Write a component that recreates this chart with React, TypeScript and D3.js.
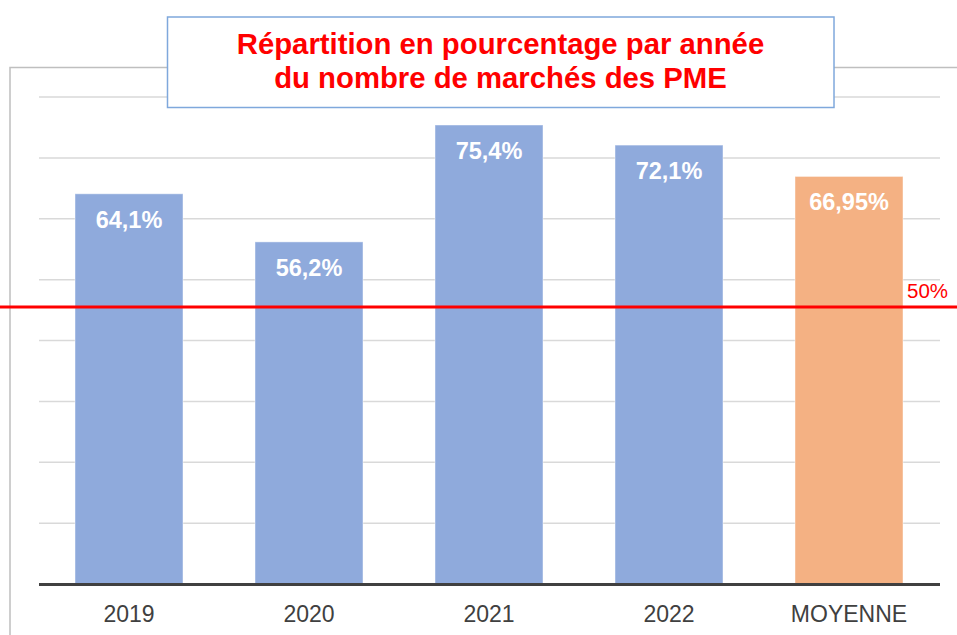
import React, { useRef, useEffect } from 'react';
import * as d3 from 'd3';

const categories = ['2019', '2020', '2021', '2022', 'MOYENNE'];
const values = [64.1, 56.2, 75.4, 72.1, 66.95];
const valueLabels = ['64,1%', '56,2%', '75,4%', '72,1%', '66,95%'];
const gridTicks = [10, 20, 30, 40, 50, 60, 70, 80];
const titleLines = ['Répartition en pourcentage par année', 'du nombre de marchés des PME'];
// red reference line, drawn where it sits in the picture
const refLineValue = 45.5;
const refLineLabel = '50%';

const W = 957;
const H = 635;

const App = () => {
    const svgRef = useRef<SVGSVGElement>(null);

    useEffect(() => {
        const svg = d3.select(svgRef.current);
        svg.selectAll('*').remove();

        const left = 39;
        const right = 939;
        const bottom = 584;
        const top = 97;

        const x = d3.scaleBand()
            .domain(categories)
            .range([left, right])
            .paddingInner(0.4)
            .paddingOuter(0.2);

        const y = d3.scaleLinear()
            .domain([0, 80])
            .range([bottom, top]);

        svg.append('rect')
            .attr('width', W)
            .attr('height', H)
            .attr('fill', '#ffffff');

        // outer chart frame
        svg.append('rect')
            .attr('x', 10)
            .attr('y', 67.5)
            .attr('width', 1000)
            .attr('height', 700)
            .attr('fill', 'none')
            .attr('stroke', '#bfbfbf')
            .attr('stroke-width', 1.5);

        // gridlines
        svg.append('g')
            .selectAll('line')
            .data(gridTicks)
            .enter()
            .append('line')
            .attr('x1', left)
            .attr('x2', right + 1)
            .attr('y1', (d) => y(d))
            .attr('y2', (d) => y(d))
            .attr('stroke', '#d9d9d9')
            .attr('stroke-width', 1.5);

        const data = categories.map((c, i) => ({ name: c, value: values[i], label: valueLabels[i] }));

        svg.selectAll('.bar')
            .data(data)
            .enter()
            .append('rect')
            .attr('class', 'bar')
            .attr('x', (d) => x(d.name) as number)
            .attr('y', (d) => y(d.value))
            .attr('width', x.bandwidth())
            .attr('height', (d) => bottom - y(d.value))
            .attr('fill', (d) => (d.name === 'MOYENNE' ? '#f4b183' : '#8faadc'))
            .attr('stroke', '#ffffff')
            .attr('stroke-opacity', 0.45)
            .attr('stroke-width', 1);

        svg.selectAll('.val')
            .data(data)
            .enter()
            .append('text')
            .attr('class', 'val')
            .attr('x', (d) => (x(d.name) as number) + x.bandwidth() / 2)
            .attr('y', (d) => y(d.value) + 34)
            .attr('text-anchor', 'middle')
            .attr('font-family', '"Liberation Sans", Arial, sans-serif')
            .attr('font-weight', 'bold')
            .attr('font-size', 23.5)
            .attr('fill', '#ffffff')
            .text((d) => d.label);

        // baseline
        svg.append('line')
            .attr('x1', left)
            .attr('x2', right + 1)
            .attr('y1', bottom + 0.5)
            .attr('y2', bottom + 0.5)
            .attr('stroke', '#404040')
            .attr('stroke-width', 3);

        svg.selectAll('.cat')
            .data(categories)
            .enter()
            .append('text')
            .attr('class', 'cat')
            .attr('x', (d) => (x(d) as number) + x.bandwidth() / 2)
            .attr('y', 622)
            .attr('text-anchor', 'middle')
            .attr('font-family', '"Liberation Sans", Arial, sans-serif')
            .attr('font-size', 23)
            .attr('fill', '#404040')
            .text((d) => d);

        // red reference line
        svg.append('line')
            .attr('x1', 0)
            .attr('x2', W)
            .attr('y1', y(refLineValue))
            .attr('y2', y(refLineValue))
            .attr('stroke', '#ff0000')
            .attr('stroke-width', 3);

        svg.append('text')
            .attr('x', 907)
            .attr('y', y(refLineValue) - 9.5)
            .attr('font-family', '"Liberation Sans", Arial, sans-serif')
            .attr('font-size', 20.5)
            .attr('fill', '#ff0000')
            .text(refLineLabel);

        // title box
        svg.append('rect')
            .attr('x', 167.5)
            .attr('y', 17)
            .attr('width', 666.5)
            .attr('height', 90.5)
            .attr('fill', '#ffffff')
            .attr('stroke', '#7fa8dc')
            .attr('stroke-width', 1.5);

        svg.append('g')
            .selectAll('text')
            .data(titleLines)
            .enter()
            .append('text')
            .attr('x', 500.5)
            .attr('y', (d, i) => 54 + i * 33.5)
            .attr('text-anchor', 'middle')
            .attr('font-family', '"Liberation Sans", Arial, sans-serif')
            .attr('font-weight', 'bold')
            .attr('font-size', 29.3)
            .attr('fill', '#ff0000')
            .text((d) => d);
    }, []);

    return (
        <svg ref={svgRef} width={W} height={H}
            style={{ position: 'absolute', left: 0, top: 0, display: 'block' }}></svg>
    );
};

export default App;
